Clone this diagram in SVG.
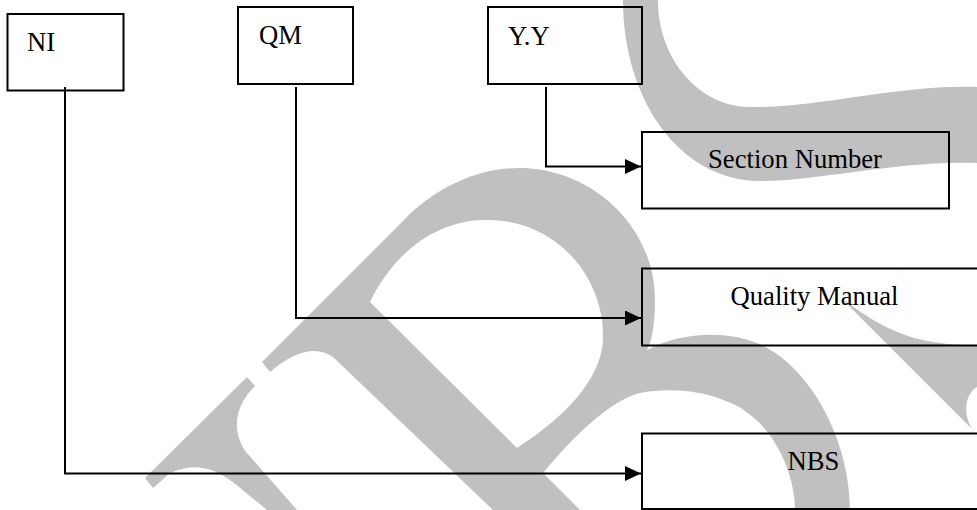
<svg xmlns="http://www.w3.org/2000/svg" width="977" height="510" viewBox="0 0 977 510">
  <style>
    .wm { fill: #c0c0c0; stroke: none; }
    .box { fill: none; stroke: #000; stroke-width: 2; }
    .lbl { font-family: "Liberation Serif", "Times New Roman", serif; font-size: 26.67px; fill: #000; }
    .mid { text-anchor: middle; }
    .conn { fill: none; stroke: #000; stroke-width: 2; marker-end: url(#arrow); }
  </style>
  <defs>
    <marker id="arrow" markerUnits="userSpaceOnUse" markerWidth="16" markerHeight="15" refX="16" refY="7.5" orient="auto">
      <path d="M0,0 L16,7.5 L0,15 Z" fill="#000"/>
    </marker>
  </defs>

  <!-- background watermark strokes -->
  <g id="watermark">
    <path class="wm" d="M623,0 C623,100 680,181 760,181 C820,181 900,160 977,163 L977,87 C900,84 820,108 750,107 C700,107 658,60 658,0 Z"/>
    <path class="wm" fill-rule="evenodd" d="M262,362 L407,217 C430,194 470,168 520,168 C590,168 655,225 655,300 C655,320 653,333 650,343 L647,350 C680,332 725,330 757,343 C810,365 850,440 850,510 L795,510 C795,470 770,415 723,400 C700,390 665,388 640,393 C610,400 570,440 543,473 L580,510 L493,510 L333,357 C318,347 298,348 270,372 Z M370,302 L517,448 C545,430 600,390 603,340 C605,280 560,222 490,220 C440,218 395,250 370,302 Z"/>
    <path class="wm" d="M145,478 L247,377 L255,386 C238,402 229,428 246,452 L297,510 L267,510 L245,492 C220,470 200,460 170,473 L153,488 Z"/>
    <path class="wm" d="M842,299 C865,315 895,338 940,343 C955,345 965,345 977,345 L977,387 C966,393 962,412 972,429 Z"/>
  </g>

  <!-- connectors -->
  <g id="connectors">
    <path class="conn" d="M65,87 V473.5 H641"/>
    <path class="conn" d="M296,87 V318 H641"/>
    <path class="conn" d="M546,87 V166.5 H641"/>
  </g>

  <!-- source boxes -->
  <g id="node-ni">
    <rect class="box" x="7.5" y="14" width="116" height="76.5"/>
    <text class="lbl" x="27" y="51">NI</text>
  </g>
  <g id="node-qm">
    <rect class="box" x="238" y="7" width="115" height="77"/>
    <text class="lbl" x="259" y="43.5">QM</text>
  </g>
  <g id="node-yy">
    <rect class="box" x="488" y="7" width="154" height="77"/>
    <text class="lbl" x="508" y="44.5">Y.Y</text>
  </g>

  <!-- target boxes -->
  <g id="node-section-number">
    <rect class="box" x="642" y="132" width="307" height="76.5"/>
    <text class="lbl mid" x="795" y="167.5">Section Number</text>
  </g>
  <g id="node-quality-manual">
    <rect class="box" x="642" y="268.5" width="344" height="77"/>
    <text class="lbl mid" x="814.5" y="305">Quality Manual</text>
  </g>
  <g id="node-nbs">
    <rect class="box" x="642" y="433.5" width="344" height="75.5"/>
    <text class="lbl mid" x="813.5" y="469.5">NBS</text>
  </g>
</svg>
